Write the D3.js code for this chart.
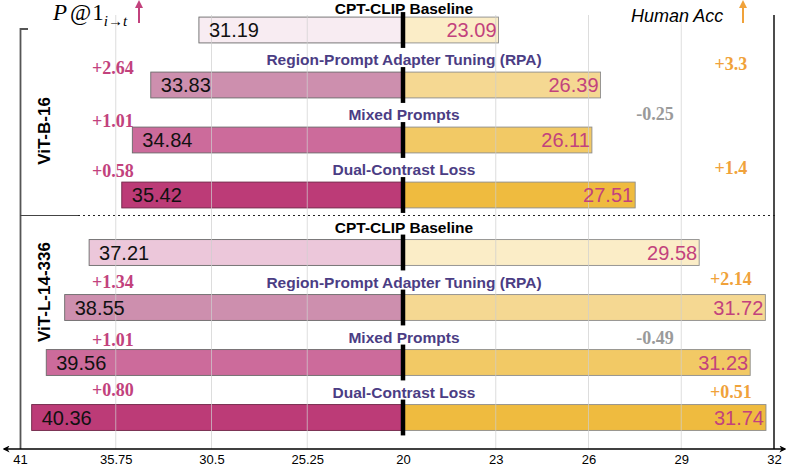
<!DOCTYPE html>
<html>
<head>
<meta charset="utf-8">
<script src="https://cdn.jsdelivr.net/npm/d3@7"></script>
<style>
  body { margin: 0; background: #fff; }
  svg { display: block; }
</style>
</head>
<body>
<div id="chart"></div>
<script>
// datos
var groups = ["ViT-B-16", "ViT-L-14-336"];
var methods = ["CPT-CLIP Baseline", "Region-Prompt Adapter Tuning (RPA)", "Mixed Prompts", "Dual-Contrast Loss"];
var p1Values = [[31.19, 33.83, 34.84, 35.42], [37.21, 38.55, 39.56, 40.36]];
var accValues = [[23.09, 26.39, 26.11, 27.51], [29.58, 31.72, 31.23, 31.74]];
var p1Deltas = [["", "+2.64", "+1.01", "+0.58"], ["", "+1.34", "+1.01", "+0.80"]];
var accDeltas = [["", "+3.3", "-0.25", "+1.4"], ["", "+2.14", "-0.49", "+0.51"]];
var leftTicks = [41, 35.75, 30.5, 25.25, 20];
var rightTicks = [23, 26, 29, 32];

// colores
var leftColors = [["#f8ecf2", "#cd8fae", "#cc6b9b", "#bc3b77"],
                  ["#ecc7da", "#cd8fae", "#cc6b9b", "#bc3b77"]];
var rightColors = ["#fbedc7", "#f5d892", "#f2c965", "#efbb3f"];
var pink = "#c2427d", orange = "#f0a23a", grey = "#9a9a9a", purple = "#4b3d84";

// ajustes verticales a mano de las diferencias (px)
var leftShift = [[0, 9, 7, 2], [0, 0, 3, -2]];
var rightShift = [[0, 5, 0, -1], [0, -3, 1, 0]];

var ancho = 789, alto = 466;
var centro = 403, axisY = 449;
var sans = "'Liberation Sans', Arial, Helvetica, sans-serif";
var serif = "'Liberation Serif', 'Times New Roman', serif";

var svg = d3.select("#chart").append("svg")
  .attr("width", ancho).attr("height", alto);

// escalas
var xL = d3.scaleLinear().domain([41, 20]).range([20, centro]);
var xR = d3.scaleLinear().domain([20, 32]).range([centro, 774]);
var groupTop = [2.5, 225];
var yRow = d3.scaleBand().domain(d3.range(methods.length))
  .range([0, 220]).paddingInner(0.53).paddingOuter(0.265);
var bh = yRow.bandwidth();

// filas planas
var rows = [];
groups.forEach(function(g, gi){
  methods.forEach(function(m, mi){
    rows.push({g: gi, m: mi, name: m, p1: p1Values[gi][mi], acc: accValues[gi][mi],
      dp: p1Deltas[gi][mi], da: accDeltas[gi][mi],
      y: groupTop[gi] + yRow(mi)});
  });
});

// barras izquierda
svg.append("g").selectAll("rect").data(rows).enter().append("rect")
  .attr("x", function(d){ return xL(d.p1); })
  .attr("y", function(d){ return d.y; })
  .attr("width", function(d){ return centro - xL(d.p1); })
  .attr("height", bh)
  .attr("fill", function(d){ return leftColors[d.g][d.m]; })
  .attr("stroke", function(d){ return d.m == 3 ? "#6e2446" : "#6a6a6a"; })
  .attr("stroke-width", 0.9);

// barras derecha
svg.append("g").selectAll("rect").data(rows).enter().append("rect")
  .attr("x", centro)
  .attr("y", function(d){ return d.y; })
  .attr("width", function(d){ return xR(d.acc) - centro; })
  .attr("height", bh)
  .attr("fill", function(d){ return rightColors[d.m]; })
  .attr("stroke", "#8c8c8c")
  .attr("stroke-width", 0.9);

// rejilla encima de las barras
var gridX = leftTicks.slice(1, 4).map(function(t){ return xL(t); })
  .concat(rightTicks.slice(0, 3).map(function(t){ return xR(t); }));
svg.append("g").selectAll("line").data(gridX).enter().append("line")
  .attr("x1", function(d){ return d; }).attr("x2", function(d){ return d; })
  .attr("y1", 15).attr("y2", axisY)
  .attr("stroke", "#cfcfcf").attr("stroke-opacity", 0.7).attr("stroke-width", 1);

// linea central por fila
svg.append("g").selectAll("line").data(rows).enter().append("line")
  .attr("x1", centro).attr("x2", centro)
  .attr("y1", function(d){ return d.y - 5; })
  .attr("y2", function(d){ return d.y + bh + 5; })
  .attr("stroke", "#000").attr("stroke-width", 4.5);

// valores
svg.append("g").selectAll("text").data(rows).enter().append("text")
  .text(function(d){ return d.p1.toFixed(2); })
  .attr("x", function(d){ return xL(d.p1) + 10; })
  .attr("y", function(d){ return d.y + bh / 2 + 7; })
  .attr("font-family", sans).attr("font-size", "20px").attr("fill", "#111");

svg.append("g").selectAll("text").data(rows).enter().append("text")
  .text(function(d){ return d.acc.toFixed(2); })
  .style("text-anchor", "end")
  .attr("x", function(d){ return xR(d.acc) - 2; })
  .attr("y", function(d){ return d.y + bh / 2 + 7; })
  .attr("font-family", sans).attr("font-size", "20px").attr("fill", pink);

// titulos de metodo
svg.append("g").selectAll("text").data(rows).enter().append("text")
  .text(function(d){ return d.name; })
  .style("text-anchor", "middle")
  .attr("x", 404)
  .attr("y", function(d){ return Math.max(d.y + bh / 2 - 20, 14); })
  .attr("font-family", sans).attr("font-size", "15.5px").attr("font-weight", "bold")
  .attr("fill", function(d){ return d.m == 0 ? "#000" : purple; });

// diferencias
svg.append("g").selectAll("text").data(rows.filter(function(d){ return d.dp; })).enter().append("text")
  .text(function(d){ return d.dp; })
  .style("text-anchor", "middle")
  .attr("x", 113)
  .attr("y", function(d){ return d.y + bh / 2 - 20 + leftShift[d.g][d.m]; })
  .attr("font-family", serif).attr("font-size", "18px").attr("font-weight", "bold")
  .attr("fill", pink);

svg.append("g").selectAll("text").data(rows.filter(function(d){ return d.da; })).enter().append("text")
  .text(function(d){ return d.da; })
  .style("text-anchor", "middle")
  .attr("x", function(d){ return d.da[0] == "-" ? 655 : 731; })
  .attr("y", function(d){ return d.y + bh / 2 - 20 + rightShift[d.g][d.m]; })
  .attr("font-family", serif).attr("font-size", "18px").attr("font-weight", "bold")
  .attr("fill", function(d){ return d.da[0] == "-" ? grey : orange; });

// marco izquierdo y derecho
svg.append("path")
  .attr("d", "M28,29H20.5V" + axisY)
  .attr("fill", "none").attr("stroke", "#555").attr("stroke-width", 1.8);
svg.append("line")
  .attr("x1", 774).attr("x2", 774).attr("y1", 15).attr("y2", axisY)
  .attr("stroke", "#111").attr("stroke-width", 1.5);

// separador entre grupos
svg.append("line")
  .attr("x1", 20).attr("x2", 78).attr("y1", 215.5).attr("y2", 215.5)
  .attr("stroke", "#444").attr("stroke-width", 1.2);
svg.append("line")
  .attr("x1", 78).attr("x2", 776).attr("y1", 215.5).attr("y2", 215.5)
  .attr("stroke", "#222").attr("stroke-width", 1.2).attr("stroke-dasharray", "2,3");

// etiquetas de grupo
var groupMid = [131, 292];
groups.forEach(function(g, i){
  svg.append("text")
    .text(g)
    .style("text-anchor", "middle")
    .attr("transform", "translate(50," + groupMid[i] + ") rotate(-90)")
    .attr("font-family", sans).attr("font-size", "17px").attr("font-weight", "bold")
    .attr("fill", "#000");
});

// eje con flechas
var defs = svg.append("defs");
defs.append("marker").attr("id", "flecha")
  .attr("viewBox", "0 0 10 10").attr("refX", 8).attr("refY", 5)
  .attr("markerWidth", 7).attr("markerHeight", 7)
  .attr("markerUnits", "userSpaceOnUse")
  .attr("orient", "auto-start-reverse")
  .append("path").attr("d", "M0,0L10,5L0,10L3,5Z").attr("fill", "#000");

svg.append("line")
  .attr("x1", 4).attr("x2", 785).attr("y1", axisY).attr("y2", axisY)
  .attr("stroke", "#000").attr("stroke-width", 1.6)
  .attr("marker-start", "url(#flecha)").attr("marker-end", "url(#flecha)");

var axL = svg.append("g").attr("transform", "translate(0," + axisY + ")")
  .call(d3.axisBottom(xL).tickValues(leftTicks).tickSize(0).tickPadding(6).tickFormat(d3.format("")));
var axR = svg.append("g").attr("transform", "translate(0," + axisY + ")")
  .call(d3.axisBottom(xR).tickValues(rightTicks).tickSize(0).tickPadding(6).tickFormat(d3.format("")));
[axL, axR].forEach(function(a){
  a.select(".domain").remove();
  a.selectAll("text").attr("font-family", sans).attr("font-size", "13px").attr("fill", "#000");
});

// encabezados
var p1 = svg.append("text").attr("x", 53).attr("y", 20)
  .attr("font-family", serif).attr("font-size", "23px").attr("font-style", "italic").attr("fill", "#000");
p1.append("tspan").text("P");
p1.append("tspan").text("@").attr("dx", 3).attr("font-style", "normal");
p1.append("tspan").text("1").attr("dx", 1).attr("font-style", "normal");
p1.append("tspan").text("i\u2192t").attr("dy", 6).attr("font-size", "15px");

function flecha(x, color){
  svg.append("line").attr("x1", x).attr("x2", x).attr("y1", 23).attr("y2", 5)
    .attr("stroke", color).attr("stroke-width", 2);
  svg.append("path").attr("d", "M" + (x - 4) + ",8L" + x + ",0L" + (x + 4) + ",8Z")
    .attr("fill", color);
}
flecha(139, pink);

svg.append("text").text("Human Acc")
  .attr("x", 631).attr("y", 22)
  .attr("font-family", sans).attr("font-size", "18px").attr("font-style", "italic").attr("fill", "#000");
flecha(743, orange);
</script>
</body>
</html>
